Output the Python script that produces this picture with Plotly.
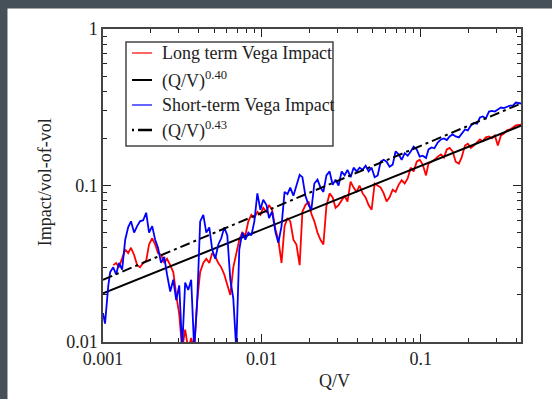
import plotly.graph_objects as go

# Q/V sample positions
qv = [0.00100, 0.00103, 0.00108, 0.00111, 0.00116, 0.00121, 0.00126, 0.00132, 0.00138, 0.00144,
      0.00150, 0.00157, 0.00164, 0.00171, 0.00179, 0.00187, 0.00195, 0.00204, 0.00213, 0.00222,
      0.00232, 0.00243, 0.00253, 0.00265, 0.00277, 0.00289, 0.00302, 0.00315, 0.00329, 0.00344,
      0.00359, 0.00375, 0.00392, 0.00409, 0.00428, 0.00447, 0.00467, 0.00487, 0.00509, 0.00532,
      0.00555, 0.00580, 0.00606, 0.00633, 0.00661, 0.00690, 0.00721, 0.00753, 0.00787, 0.00822,
      0.00859, 0.00897, 0.00937, 0.00979, 0.0102, 0.0107, 0.0111, 0.0116, 0.0122, 0.0127,
      0.0133, 0.0139, 0.0145, 0.0151, 0.0158, 0.0165, 0.0173, 0.0180, 0.0188, 0.0197,
      0.0205, 0.0214, 0.0224, 0.0234, 0.0244, 0.0255, 0.0267, 0.0279, 0.0291, 0.0304,
      0.0318, 0.0332, 0.0346, 0.0362, 0.0378, 0.0395, 0.0412, 0.0431, 0.0450, 0.0470,
      0.0491, 0.0513, 0.0536, 0.0560, 0.0585, 0.0610, 0.0637, 0.0666, 0.0695, 0.0726,
      0.0759, 0.0793, 0.0828, 0.0865, 0.0903, 0.0944, 0.0986, 0.103, 0.108, 0.112,
      0.117, 0.122, 0.128, 0.134, 0.140, 0.146, 0.152, 0.159, 0.166, 0.174,
      0.181, 0.190, 0.198, 0.207, 0.216, 0.226, 0.236, 0.246, 0.257, 0.269,
      0.281, 0.293, 0.306, 0.320, 0.334, 0.349, 0.365, 0.381, 0.397, 0.428]

short_term = [0.0153, 0.0131, 0.023, 0.028, 0.030, 0.027, 0.032, 0.029, 0.045, 0.054,
              0.059, 0.050, 0.055, 0.059, 0.060, 0.067, 0.050, 0.055, 0.045, 0.040,
              0.032, 0.035, 0.027, 0.021, 0.025, 0.0185, 0.023, 0.009, 0.024, 0.0215,
              0.025, 0.009, 0.0185, 0.059, 0.065, 0.050, 0.054, 0.039, 0.034, 0.042,
              0.046, 0.054, 0.048, 0.025, 0.019, 0.009, 0.039, 0.050, 0.045, 0.050,
              0.048, 0.059, 0.089, 0.070, 0.081, 0.075, 0.062, 0.068, 0.050, 0.043,
              0.055, 0.091, 0.088, 0.097, 0.086, 0.100, 0.117, 0.113, 0.086, 0.075,
              0.070, 0.103, 0.109, 0.097, 0.091, 0.116, 0.123, 0.101, 0.109, 0.100,
              0.123, 0.116, 0.126, 0.113, 0.130, 0.123, 0.130, 0.126, 0.134, 0.123,
              0.130, 0.113, 0.116, 0.142, 0.146, 0.142, 0.132, 0.136, 0.165, 0.158,
              0.146, 0.161, 0.155, 0.165, 0.177, 0.170, 0.153, 0.155, 0.150, 0.170,
              0.175, 0.173, 0.188, 0.197, 0.200, 0.195, 0.206, 0.212, 0.206, 0.203,
              0.215, 0.228, 0.225, 0.242, 0.251, 0.248, 0.272, 0.276, 0.268, 0.297,
              0.300, 0.297, 0.306, 0.315, 0.312, 0.318, 0.324, 0.324, 0.339, 0.334]

long_term = [None, None, None, None, 0.031, 0.032, 0.030, 0.034, 0.039, 0.037,
             0.040, 0.036, 0.031, 0.030, 0.032, 0.033, 0.042, 0.046, 0.042, 0.037,
             0.036, 0.032, 0.034, 0.031, 0.028, 0.020, 0.015, 0.009, 0.012, 0.009,
             0.0106, 0.009, 0.0185, 0.028, 0.032, 0.034, 0.032, 0.037, 0.035, 0.032,
             0.030, 0.027, 0.023, 0.020, 0.030, 0.036, 0.045, 0.050, 0.048, 0.059,
             0.065, 0.062, 0.068, 0.065, 0.072, 0.068, 0.075, 0.070, 0.052, 0.045,
             0.032, 0.055, 0.062, 0.059, 0.045, 0.042, 0.031, 0.068, 0.075, 0.079,
             0.066, 0.059, 0.050, 0.045, 0.042, 0.074, 0.089, 0.084, 0.072, 0.075,
             0.081, 0.086, 0.079, 0.106, 0.097, 0.091, 0.100, 0.089, 0.084, 0.075,
             0.070, 0.103, 0.100, 0.097, 0.089, 0.079, 0.084, 0.094, 0.091, 0.101,
             0.108, 0.103, 0.111, 0.130, 0.123, 0.142, 0.146, 0.136, 0.116, 0.138,
             0.142, 0.146, 0.153, 0.158, 0.151, 0.170, 0.174, 0.165, 0.142, 0.138,
             0.151, 0.180, 0.185, 0.174, 0.180, 0.188, 0.197, 0.192, 0.203, 0.206,
             0.200, 0.209, 0.180, 0.209, 0.215, 0.225, 0.228, 0.235, 0.242, 0.245]

# power-law fit lines (end points)
fit_x = [0.001, 0.428]
fit_040 = [0.0205, 0.241]
fit_043 = [0.0250, 0.334]

x_major = [0.001, 0.01, 0.1]
x_major_text = ["0.001", "0.01", "0.1"]
y_major = [0.01, 0.1, 1]
y_major_text = ["0.01", "0.1", "1"]
x_minor = [m * d for d in (0.001, 0.01, 0.1) for m in range(2, 10) if m * d < 0.43]
y_minor = [m * d for d in (0.01, 0.1) for m in range(2, 10)]

legend_names = ["Long term Vega Impact", "(Q/V)<sup>0.40</sup>",
                "Short-term Vega Impact", "(Q/V)<sup>0.43</sup>"]
legend_colors = ["#ff0000", "black", "#0000ff", "black"]
legend_dashes = ["solid", "solid", "solid", "dot-dash"]

FONT = "Liberation Serif"
TXT = "#222"
X_RANGE = [-3, -0.3686]
Y_RANGE = [-2, 0]
DASHDOT = "10px,4px,3px,4px"

fig = go.Figure()
fig.add_trace(go.Scatter(x=qv, y=long_term, mode="lines", name=legend_names[0],
                         line=dict(color=legend_colors[0], width=1.8)))
fig.add_trace(go.Scatter(x=fit_x, y=fit_040, mode="lines", name=legend_names[1],
                         line=dict(color=legend_colors[1], width=2)))
fig.add_trace(go.Scatter(x=qv, y=short_term, mode="lines", name=legend_names[2],
                         line=dict(color=legend_colors[2], width=1.8)))
fig.add_trace(go.Scatter(x=fit_x, y=fit_043, mode="lines", name=legend_names[3],
                         line=dict(color=legend_colors[3], width=2, dash=DASHDOT)))
# carrier for the minor-tick overlay axes
fig.add_trace(go.Scatter(x=[x_major[0]], y=[y_major[0]], xaxis="x2", yaxis="y2",
                         mode="markers", marker=dict(opacity=0), showlegend=False,
                         hoverinfo="skip"))

base = dict(type="log", showgrid=False, zeroline=False, mirror="allticks",
            ticks="inside", tickwidth=1, tickcolor=TXT)

# legend drawn as a framed box inside the plot (paper coordinates)
LX0, LX1, LY0, LY1 = 0.055, 0.5502, 0.6262, 0.9585
row_y = [0.9233, 0.8371, 0.7572, 0.6773]
shapes = [
    dict(type="rect", xref="paper", yref="paper", x0=-0.26, x1=-0.2285, y0=-0.2, y1=1.1,
         fillcolor="#465059", line=dict(width=0)),
    dict(type="rect", xref="paper", yref="paper", x0=-0.26, x1=1.1, y0=1.0655, y1=1.1,
         fillcolor="#465059", line=dict(width=0)),
    dict(type="rect", xref="paper", yref="paper", x0=LX0, x1=LX1, y0=LY0, y1=LY1,
         fillcolor="white", line=dict(color="#444", width=1.5)),
]
annotations = [
    dict(text="Q/V", xref="paper", yref="paper", x=0.555, y=-0.125,
         xanchor="center", yanchor="middle", showarrow=False,
         font=dict(family=FONT, size=18, color=TXT)),
    dict(text="Impact/vol-of-vol", xref="paper", yref="paper", x=-0.139, y=0.51,
         xanchor="center", yanchor="middle", textangle=-90, showarrow=False,
         font=dict(family=FONT, size=18, color=TXT)),
]
for name, col, dash, ry in zip(legend_names, legend_colors, legend_dashes, row_y):
    if dash == "solid":
        shapes.append(dict(type="line", xref="paper", yref="paper", x0=0.0694, x1=0.1172,
                           y0=ry, y1=ry, line=dict(color=col, width=2 if col == "black" else 1.2)))
    else:
        shapes.append(dict(type="line", xref="paper", yref="paper", x0=0.0694, x1=0.0742,
                           y0=ry, y1=ry, line=dict(color=col, width=2.5)))
        shapes.append(dict(type="line", xref="paper", yref="paper", x0=0.0838, x1=0.1172,
                           y0=ry, y1=ry, line=dict(color=col, width=2.5)))
    annotations.append(dict(text=name, xref="paper", yref="paper", x=0.1364,
                            y=ry, xanchor="left", yanchor="middle",
                            showarrow=False, font=dict(family=FONT, size=18, color=TXT)))

fig.update_layout(
    width=552, height=399,
    margin=dict(l=103, r=31, t=29, b=57),
    paper_bgcolor="white", plot_bgcolor="white",
    font=dict(family=FONT, color=TXT),
    showlegend=False,
    xaxis=dict(range=X_RANGE, tickvals=x_major, ticktext=x_major_text, ticklen=8,
               showline=True, linecolor="#444", linewidth=1.5,
               tickfont=dict(family=FONT, size=18, color=TXT), **base),
    yaxis=dict(range=Y_RANGE, tickvals=y_major, ticktext=y_major_text, ticklen=8,
               showline=True, linecolor="#444", linewidth=1.5,
               tickfont=dict(family=FONT, size=18, color=TXT), **base),
    xaxis2=dict(range=X_RANGE, overlaying="x", anchor="y2", side="bottom",
                tickvals=x_minor, ticklen=4, showticklabels=False, showline=False, **base),
    yaxis2=dict(range=Y_RANGE, overlaying="y", anchor="x2", side="left",
                tickvals=y_minor, ticklen=4, showticklabels=False, showline=False, **base),
    shapes=shapes,
    annotations=annotations,
)

fig.write_html("out.html")
